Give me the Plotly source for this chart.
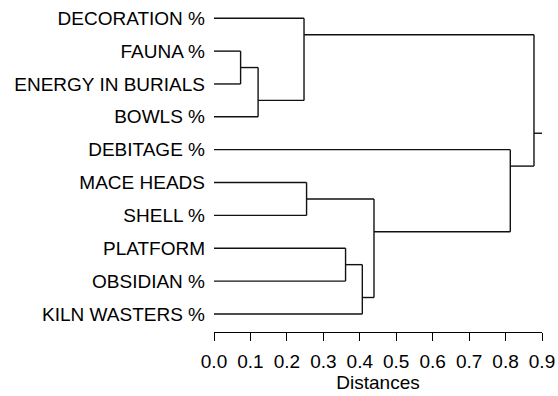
import plotly.graph_objects as go

# Leaf variables, in tree order (top to bottom)
labels = [
    "DECORATION %", "FAUNA %", "ENERGY IN BURIALS", "BOWLS %", "DEBITAGE %",
    "MACE HEADS", "SHELL %", "PLATFORM", "OBSIDIAN %", "KILN WASTERS %",
]

# Joins: (left cluster, right cluster, distance); new clusters numbered from 10
merge_left = [1, 10, 0, 5, 7, 14, 13, 4, 12]
merge_right = [2, 3, 11, 6, 8, 9, 15, 16, 17]
merge_dist = [0.073, 0.121, 0.247, 0.254, 0.361, 0.407, 0.439, 0.813, 0.878]

x_max = 0.9
tick_vals = [0.0, 0.1, 0.2, 0.3, 0.4, 0.5, 0.6, 0.7, 0.8, 0.9]

n = len(labels)
node_y = {i: float(i) for i in range(n)}
node_h = {i: 0.0 for i in range(n)}
node_last = {i: i for i in range(n)}

xs, ys = [], []
for k, (a, b, d) in enumerate(zip(merge_left, merge_right, merge_dist)):
    new = n + k
    # each join sits in the gap between its two child groups
    y_new = node_last[a] + 0.5
    for c in (a, b):
        xs += [node_h[c], d, None]
        ys += [node_y[c], node_y[c], None]
    xs += [d, d, None]
    ys += [node_y[a], node_y[b], None]
    node_y[new] = y_new
    node_h[new] = d
    node_last[new] = node_last[b]

root = n + len(merge_dist) - 1
xs += [node_h[root], x_max, None]
ys += [node_y[root], node_y[root], None]

font_family = "Liberation Sans, Arial, Helvetica, sans-serif"

fig = go.Figure(
    go.Scatter(
        x=xs, y=ys, mode="lines",
        line=dict(color="#111111", width=1.4),
        hoverinfo="skip", showlegend=False,
    )
)

fig.update_layout(
    width=558, height=396,
    margin=dict(l=214, r=16, t=0, b=64),
    paper_bgcolor="white", plot_bgcolor="white",
    font=dict(family=font_family, size=19, color="black"),
    xaxis=dict(
        range=[0, x_max], tickvals=tick_vals,
        ticktext=[f"{v:.1f}" for v in tick_vals],
        showgrid=False, zeroline=False,
        showline=True, linecolor="black", linewidth=1.4,
        ticks="outside", ticklen=8, tickwidth=1.4, tickcolor="black",
        tickfont=dict(size=19), ticklabelstandoff=4,
        title=dict(text="Distances", font=dict(size=19), standoff=0),
    ),
    yaxis=dict(
        range=[9.55, -0.556], tickvals=list(range(n)), ticktext=labels,
        showgrid=False, zeroline=False, showline=False, ticks="",
        tickfont=dict(size=19), ticklabelstandoff=8,
    ),
)

fig.write_html("out.html")
